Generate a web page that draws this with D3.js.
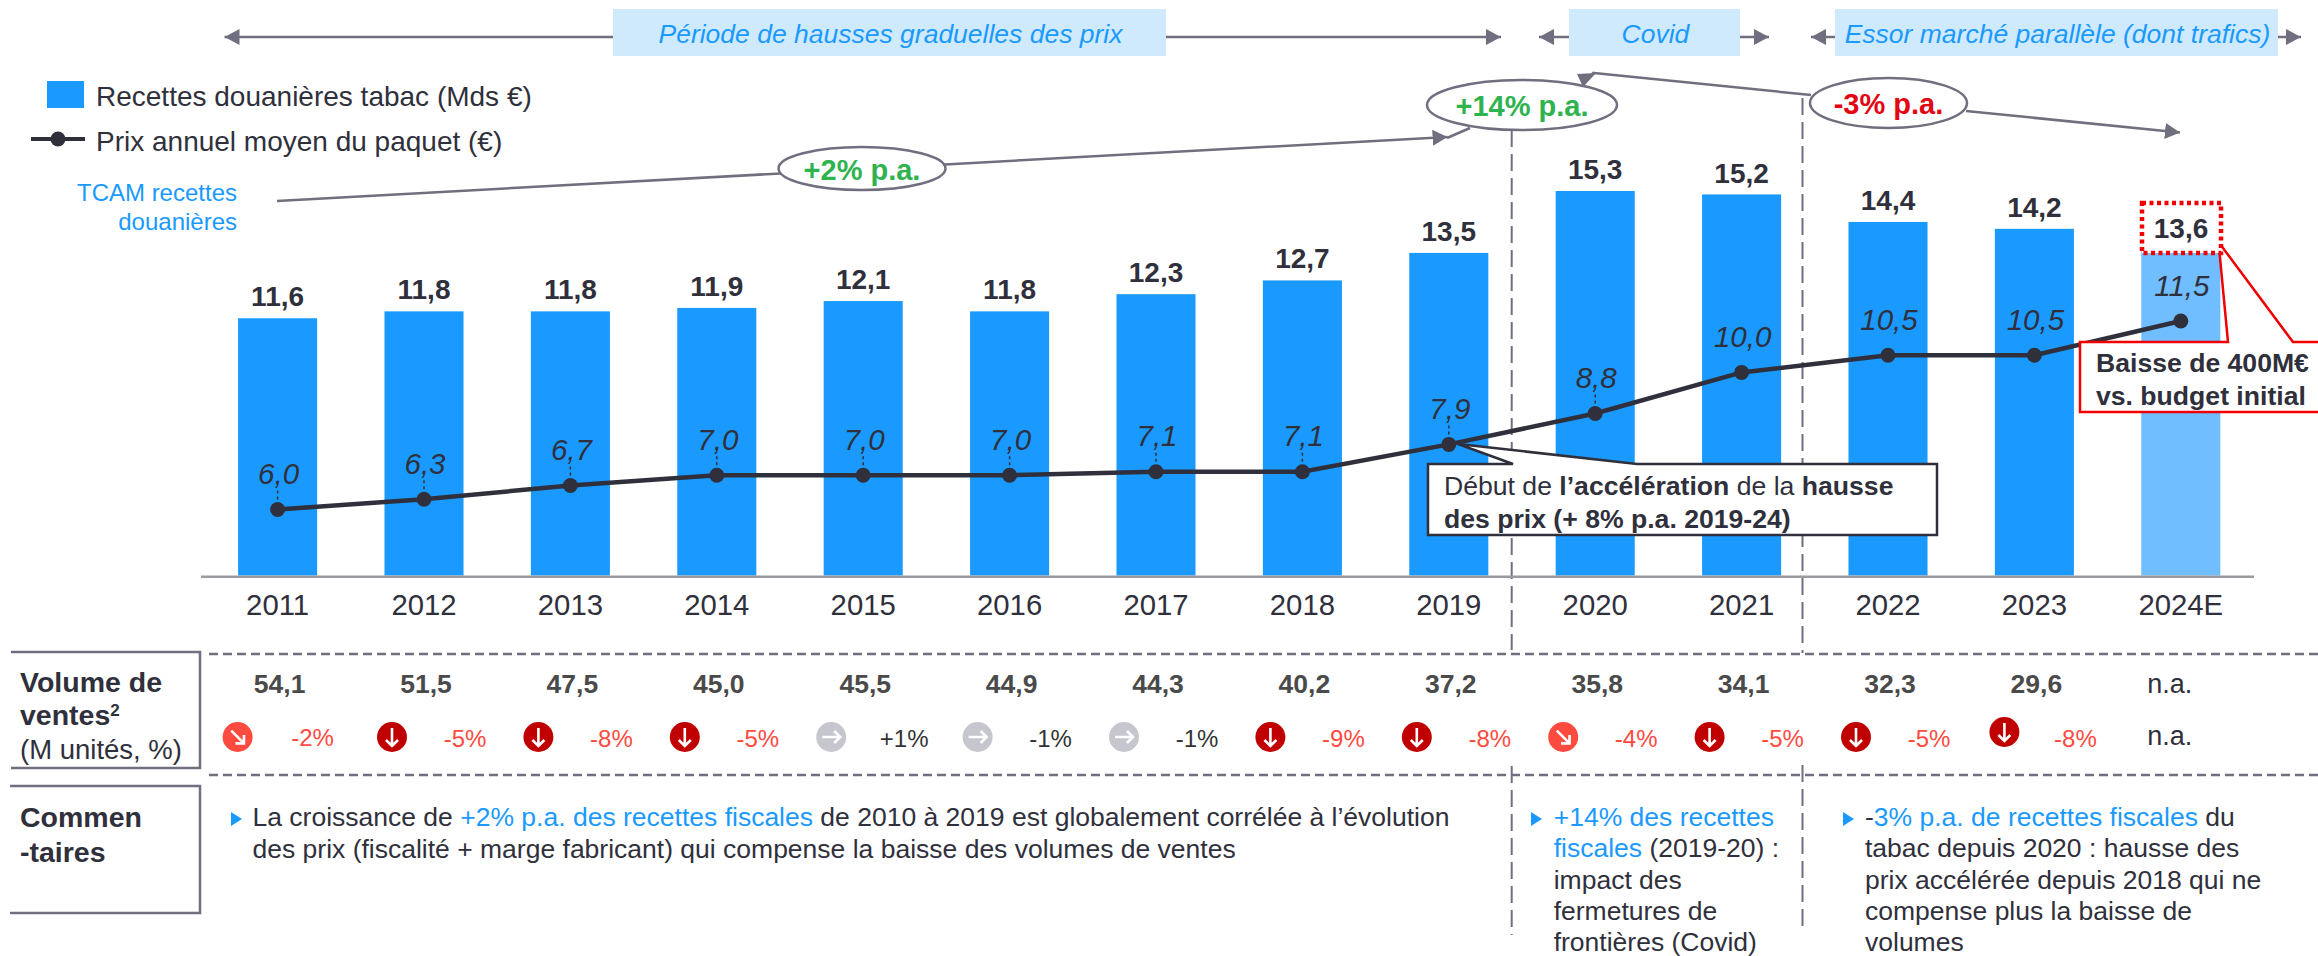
<!DOCTYPE html>
<html><head><meta charset="utf-8">
<style>
html,body{margin:0;padding:0;background:#fff}
svg{display:block}
text{font-family:"Liberation Sans",Arial,sans-serif;fill:#2f303c}
</style>
<script src="https://cdn.jsdelivr.net/npm/d3@7/dist/d3.min.js"></script>
</head><body><svg id="c" width="2318" height="956"></svg>
<script>
const years=["2011","2012","2013","2014","2015","2016","2017","2018","2019","2020","2021","2022","2023","2024E"];
const revenue=[11.6,11.8,11.8,11.9,12.1,11.8,12.3,12.7,13.5,15.3,15.2,14.4,14.2,13.6];
const price=[6.0,6.3,6.7,7.0,7.0,7.0,7.1,7.1,7.9,8.8,10.0,10.5,10.5,11.5];
const volumes=[54.1,51.5,47.5,45.0,45.5,44.9,44.3,40.2,37.2,35.8,34.1,32.3,29.6,null];
const volumeChange=[-2,-5,-8,-5,1,-1,-1,-9,-8,-4,-5,-5,-8,null];
const trend=["diag","down","down","down","flat","flat","flat","down","down","diag","down","down","down",null];
const periods=["Période de hausses graduelles des prix","Covid","Essor marché parallèle (dont trafics)"];
const legendLabels=["Recettes douanières tabac (Mds €)","Prix annuel moyen du paquet (€)"];
const cagrLabels=["+2% p.a.","+14% p.a.","-3% p.a."];

const BLUE="#1a9aff",LIGHT="#70bdff",PALE="#cfe9fd",DARK="#2f303c",GREY="#6f6f7f",RED="#f00000";
const fr=v=>d3.format(".1f")(v).replace(".",",");
const svg=d3.select("#c");
const x=d3.scaleBand().domain(years).range([204.4,2254]).paddingInner(.46).paddingOuter(.23);
const cx=y=>x(y)+x.bandwidth()/2;
const yBar=d3.scaleLinear().domain([4.12,15.3]).range([575.5,191]);
const yLine=d3.scaleLinear().domain([6,11.5]).range([509.5,321]);

const defs=svg.append("defs");
defs.append("marker").attr("id","ah").attr("viewBox","0 0 15 16").attr("refX",15).attr("refY",8)
 .attr("markerWidth",15).attr("markerHeight",16).attr("markerUnits","userSpaceOnUse").attr("orient","auto-start-reverse")
 .append("path").attr("d","M0,0L15,8L0,16Z").attr("fill",GREY);

function seg(x1,y1,x2,y2,o={}){const l=svg.append("line").attr("x1",x1).attr("y1",y1).attr("x2",x2).attr("y2",y2)
 .attr("stroke",o.c||GREY).attr("stroke-width",o.w||2.5);
 if(o.dash)l.attr("stroke-dasharray",o.dash);
 if(o.end)l.attr("marker-end","url(#ah)");
 if(o.start)l.attr("marker-start","url(#ah)");return l;}
function txt(px,py,s,o={}){return svg.append("text").attr("x",px).attr("y",py).attr("dy","0.36em")
 .attr("font-size",o.s||26).attr("font-weight",o.b?"bold":"normal").attr("font-style",o.i?"italic":"normal")
 .attr("text-anchor",o.a||"start").style("fill",o.c||DARK).text(s);}
function rich(px,py,parts,o={}){const t=svg.append("text").attr("x",px).attr("y",py).attr("dy","0.36em").attr("font-size",o.s||26);
 parts.forEach(p=>{t.append("tspan").text(p[0]).style("fill",p[1]||DARK).attr("font-weight",p[2]?"bold":"normal");});return t;}

/* period band */
const bandY=37;
[[224.5,613,1166,1501,0],[1539,1569,1740,1769,1],[1811,1835,2278,2301,2]].forEach(b=>{
  seg(b[1],bandY,b[0],bandY,{end:1});
  seg(b[2],bandY,b[3],bandY,{end:1});
  svg.append("rect").attr("x",b[1]).attr("y",9).attr("width",b[2]-b[1]).attr("height",47).attr("fill",PALE);
  txt((b[1]+b[2])/2+1,33,periods[b[4]],{s:26.5,i:1,a:"middle",c:BLUE});
});

/* legend */
svg.append("rect").attr("x",47).attr("y",81).attr("width",37).attr("height",27).attr("fill",BLUE);
txt(96,96,legendLabels[0],{s:28});
seg(31,139,85,139,{c:DARK,w:4});
svg.append("circle").attr("cx",58).attr("cy",139).attr("r",7.5).attr("fill",DARK);
txt(96,141,legendLabels[1],{s:28});
txt(237,192,"TCAM recettes",{s:24,a:"end",c:BLUE});
txt(237,221,"douanières",{s:24,a:"end",c:BLUE});

/* bars */
svg.selectAll(".bar").data(years).join("rect").attr("class","bar")
 .attr("x",d=>x(d)).attr("width",x.bandwidth())
 .attr("y",(d,i)=>yBar(revenue[i])).attr("height",(d,i)=>yBar.range()[0]-yBar(revenue[i]))
 .attr("fill",(d,i)=>i===13?LIGHT:BLUE);

/* vertical dashed separators */
[[1511.7,130,650,766,935],[1802.5,98,653,765,928]].forEach(v=>{
  seg(v[0],v[1],v[0],v[2],{dash:"17,7",w:2});
  seg(v[0],v[3],v[0],v[4],{dash:"17,7",w:2});
});

/* axis */
seg(201,576.7,2254,576.7,{c:"#9a9a9f",w:2.5});
years.forEach(y=>txt(cx(y),604.5,y,{s:29.3,a:"middle"}));

/* cagr arrows */
seg(277,201,1447.6,137,{end:1});
seg(1447,138,1470,128);
seg(1583,85,1594,72);
svg.append("path").attr("d","M1577,74L1596,73L1583,87Z").attr("fill",GREY);
seg(1594,73,1811,95);
seg(1966,111,2180,132.5,{end:1});
[[862,168.5,83.5,21.5,"#2eb34f"],[1522,105,95,25,"#2eb34f"],[1888.5,103,78.5,25,"#e30613"]].forEach((e,i)=>{
  svg.append("ellipse").attr("cx",e[0]).attr("cy",e[1]).attr("rx",e[2]).attr("ry",e[3])
    .attr("fill","#fff").attr("stroke",GREY).attr("stroke-width",2.5);
  txt(e[0],e[1]+1,cagrLabels[i],{s:29,b:1,a:"middle",c:e[4]});
});

/* bar labels */
years.forEach((y,i)=>{ if(i<13) txt(cx(y),yBar(revenue[i])-22,fr(revenue[i]),{s:28,b:1,a:"middle"}); });

/* callout 1 */
svg.append("path").attr("d","M1428,464H1513L1458,444L1637,464H1937V535H1428Z").attr("fill","#fff").attr("stroke",DARK).attr("stroke-width",2.5);

/* price line */
const line=d3.line().x((d,i)=>cx(years[i])).y(d=>yLine(d));
svg.append("path").attr("d",line(price)).attr("fill","none").attr("stroke",DARK).attr("stroke-width",4.5);
svg.selectAll(".dot").data(price).join("circle").attr("class","dot")
 .attr("cx",(d,i)=>cx(years[i])).attr("cy",d=>yLine(d)).attr("r",7.5).attr("fill",DARK);
price.forEach((p,i)=>{
  const px=cx(years[i]),py=yLine(p);
  if(i<10) seg(px,py-19,px,py-9,{c:DARK,w:1.5,dash:"3,3"});
  txt(px+1,py-36,fr(p),{s:29.5,i:1,a:"middle"});
});

rich(1444,485.7,[["Début de "],["l’accélération",DARK,1],[" de la "],["hausse",DARK,1]],{s:26.6});
rich(1444,518,[["des prix (+ 8% p.a. 2019-24)",DARK,1]],{s:26.6});

/* callout 2 */
svg.append("path").attr("d","M2080,342H2228L2218.5,242L2293,342H2340V412H2080Z").attr("fill","#fff").attr("stroke",RED).attr("stroke-width",2.5);
svg.append("rect").attr("x",2142).attr("y",203).attr("width",79).attr("height",50).attr("fill","#fff")
 .attr("stroke",RED).attr("stroke-width",4.5).attr("stroke-dasharray","4,3.5");
txt(2181,228,fr(revenue[13]),{s:28,b:1,a:"middle"});
txt(2096,362,"Baisse de 400M€",{s:26.6,b:1});
txt(2096,395,"vs. budget initial",{s:26.6,b:1});

/* rows */
seg(209,654,2318,654,{dash:"9,5"});
seg(209,775,2318,775,{dash:"9,5"});
svg.append("path").attr("d","M11,652H200V768H11M10,786H200V913H10").attr("fill","none").attr("stroke",GREY).attr("stroke-width",2.5);
txt(20,682,"Volume de",{s:28.5,b:1});
const v2=txt(20,715,"ventes",{s:28.5,b:1});
v2.append("tspan").text("2").attr("font-size",17).attr("dy",-9);
txt(20,749,"(M unités, %)",{s:27.5});
txt(20,817,"Commen",{s:28.5,b:1});
txt(20,852,"-taires",{s:28.5,b:1});

years.forEach((y,i)=>{
  const c=cx(y);
  if(volumes[i]===null){
    txt(c-11,683,"n.a.",{s:27,a:"middle"});
    txt(c-11,735,"n.a.",{s:27,a:"middle"});
    return;
  }
  txt(c+2,683,fr(volumes[i]),{s:26.5,b:1,a:"middle",c:"#4a4a4a"});
  const ox=i===0?-40:i===12?-30:-32, oy=i===12?732:737;
  const col={down:"#c00000",diag:"#ff4a3f",flat:"#c5c6ce"}[trend[i]];
  const rot={down:0,diag:-45,flat:-90}[trend[i]];
  const g=svg.append("g").attr("transform",`translate(${c+ox},${oy})`);
  g.append("circle").attr("r",15).attr("fill",col);
  const a=g.append("g").attr("transform",`rotate(${rot})`);
  a.append("path").attr("d","M0,-9V9M-6,3L0,9L6,3").attr("fill","none").attr("stroke","#fff").attr("stroke-width",2.6);
  const v=volumeChange[i];
  txt(c+(i===0?35:41),i===0?737:738,(v>0?"+":"")+v+"%",{s:24,a:"middle",c:trend[i]==="flat"?"#333":"#ff4a3f"});
});

/* comments */
function tri(px){svg.append("path").attr("d",`M${px},812L${px+11},819L${px},826Z`).attr("fill",BLUE);}
const CS=26.5;
tri(231);tri(1531);tri(1843);
rich(252.5,816,[["La croissance de "],["+2% p.a. des recettes fiscales",BLUE],[" de 2010 à 2019 est globalement corrélée à l’évolution"]],{s:CS});
rich(252.5,848,[["des prix (fiscalité + marge fabricant) qui compense la baisse des volumes de ventes"]],{s:CS});
rich(1553.7,816,[["+14% des recettes",BLUE]],{s:CS});
rich(1553.7,847,[["fiscales",BLUE],[" (2019-20) :"]],{s:CS});
rich(1553.7,879,[["impact des"]],{s:CS});
rich(1553.7,910,[["fermetures de"]],{s:CS});
rich(1553.7,941,[["frontières (Covid)"]],{s:CS});
rich(1865,816,[["-"],["3% p.a. de recettes fiscales",BLUE],[" du"]],{s:CS});
rich(1865,847,[["tabac depuis 2020 : hausse des"]],{s:CS});
rich(1865,879,[["prix accélérée depuis 2018 qui ne"]],{s:CS});
rich(1865,910,[["compense plus la baisse de"]],{s:CS});
rich(1865,941,[["volumes"]],{s:CS});
</script></body></html>
